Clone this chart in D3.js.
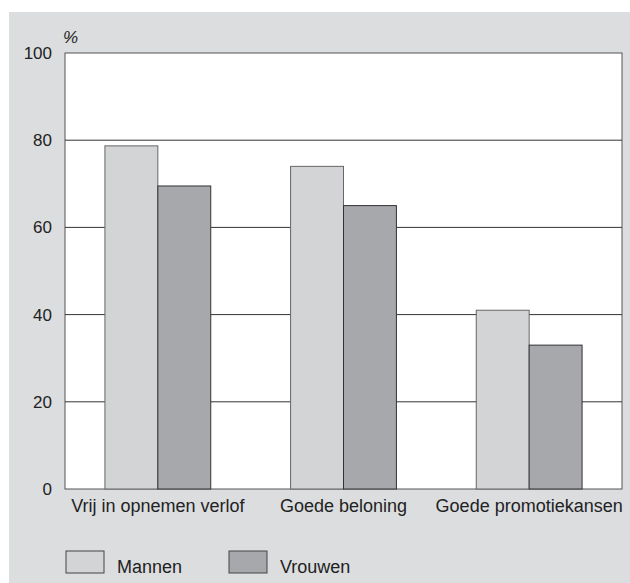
<!DOCTYPE html>
<html>
<head>
<meta charset="utf-8">
<script src="https://cdn.jsdelivr.net/npm/d3@7"></script>
<style>
  body { margin: 0; background: #fff; }
  text { font-family: "Liberation Sans", Arial, sans-serif; fill: #222; }
</style>
</head>
<body>
<svg id="chart" width="630" height="583"></svg>
<script>
const categories = ['Vrij in opnemen verlof', 'Goede beloning', 'Goede promotiekansen'];
const seriesNames = ['Mannen', 'Vrouwen'];
const mannen = [78.7, 74.0, 41.0];
const vrouwen = [69.5, 65.0, 33.0];
const yTicks = [0, 20, 40, 60, 80, 100];
const colors = ['#d3d4d6', '#a7a8ab'];

const margin = { top: 53, right: 8, bottom: 94, left: 65 };
const svg = d3.select('#chart');
const width = +svg.attr('width');
const height = +svg.attr('height');

// grijze achtergrond
svg.append('rect')
  .attr('x', 9).attr('y', 12)
  .attr('width', width - 9).attr('height', height - 12)
  .attr('fill', '#dcdddf');

const x0 = d3.scaleBand()
  .domain(categories)
  .range([margin.left, width - margin.right])
  .padding(0);

const x1 = d3.scaleBand()
  .domain(seriesNames)
  .range([x0.bandwidth() * 0.215, x0.bandwidth() * 0.785])
  .padding(0);

const y = d3.scaleLinear()
  .domain([0, 100])
  .range([height - margin.bottom, margin.top]);

// plotvlak
svg.append('rect')
  .attr('x', margin.left).attr('y', y(100))
  .attr('width', width - margin.right - margin.left)
  .attr('height', y(0) - y(100))
  .attr('fill', '#fff')
  .attr('stroke', '#555')
  .attr('stroke-width', 1);

// rasterlijnen
svg.append('g')
  .selectAll('line')
  .data(yTicks.filter(d => d > 0 && d < 100))
  .enter().append('line')
  .attr('x1', margin.left).attr('x2', width - margin.right)
  .attr('y1', d => y(d)).attr('y2', d => y(d))
  .attr('stroke', '#333')
  .attr('stroke-width', 1);

const rows = categories.map((c, i) => ({ cat: c, values: [mannen[i], vrouwen[i]] }));

svg.append('g')
  .selectAll('g')
  .data(rows)
  .enter().append('g')
  .attr('transform', d => `translate(${x0(d.cat)},0)`)
  .selectAll('rect')
  .data(d => d.values.map((v, j) => ({ key: seriesNames[j], value: v, j })))
  .enter().append('rect')
  .attr('x', d => x1(d.key))
  .attr('y', d => y(d.value))
  .attr('width', x1.bandwidth())
  .attr('height', d => y(0) - y(d.value))
  .attr('fill', d => colors[d.j])
  .attr('stroke', d => d.j === 0 ? '#666' : '#333')
  .attr('stroke-width', 1);

// y-as
const yAxis = svg.append('g')
  .attr('transform', `translate(${margin.left},0)`)
  .call(d3.axisLeft(y).tickValues(yTicks).tickSize(0).tickPadding(13));
yAxis.select('.domain').remove();
yAxis.selectAll('text')
  .style('font-size', '17px')
  .style('font-family', '"Liberation Sans", Arial, sans-serif')
  .attr('fill', '#222');

svg.append('text')
  .attr('x', 63).attr('y', 43)
  .style('font-size', '17px')
  .style('font-style', 'italic')
  .text('%');

// x-as
const xAxis = svg.append('g')
  .attr('transform', `translate(0,${y(0)})`)
  .call(d3.axisBottom(x0).tickSize(0).tickPadding(10));
xAxis.select('.domain').remove();
xAxis.selectAll('text')
  .style('font-size', '18px')
  .style('font-family', '"Liberation Sans", Arial, sans-serif')
  .attr('fill', '#222');

// legenda
const legendX = [66, 229];
const legend = svg.append('g')
  .selectAll('g')
  .data(seriesNames)
  .enter().append('g')
  .attr('transform', (d, i) => `translate(${legendX[i]},551)`);

legend.append('rect')
  .attr('width', 38).attr('height', 22)
  .attr('fill', (d, i) => colors[i])
  .attr('stroke', '#444')
  .attr('stroke-width', 1);

legend.append('text')
  .attr('x', 51).attr('y', 22)
  .style('font-size', '18px')
  .text(d => d);
</script>
</body>
</html>
